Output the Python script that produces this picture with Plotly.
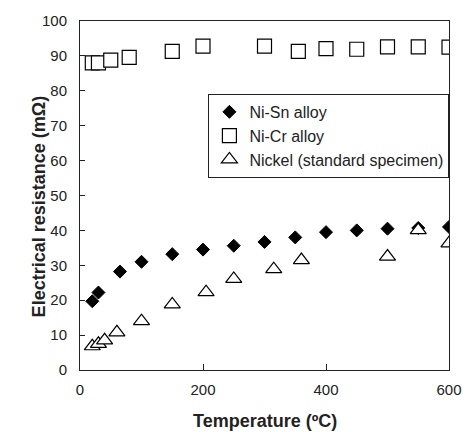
import plotly.graph_objects as go

# Data
nisn_temp = [20, 30, 65, 100, 150, 200, 250, 300, 350, 400, 450, 500, 550, 600]
nisn_res = [19.7, 22.2, 28.2, 31.0, 33.2, 34.5, 35.6, 36.7, 38.0, 39.5, 40.0, 40.5, 40.7, 41.0]

nicr_temp = [20, 30, 50, 80, 150, 200, 300, 355, 400, 450, 500, 550, 600]
nicr_res = [88.0, 88.0, 88.8, 89.6, 91.3, 92.8, 92.8, 91.3, 92.1, 91.9, 92.6, 92.6, 92.5]

ni_temp = [20, 30, 40, 60, 100, 150, 205, 250, 315, 360, 500, 550, 600]
ni_res = [6.8, 7.5, 8.5, 10.8, 14.0, 18.8, 22.3, 26.1, 28.9, 31.5, 32.5, 40.1, 36.3]

x_ticks = [0, 200, 400, 600]
y_ticks = [0, 10, 20, 30, 40, 50, 60, 70, 80, 90, 100]

FONT = "Liberation Sans, Arial, sans-serif"

fig = go.Figure()
fig.add_trace(go.Scatter(
    x=nisn_temp, y=nisn_res, mode="markers", name="Ni-Sn alloy",
    marker=dict(symbol="diamond", size=10, color="black", line=dict(color="black", width=1))))
fig.add_trace(go.Scatter(
    x=nicr_temp, y=nicr_res, mode="markers", name="Ni-Cr alloy",
    marker=dict(symbol="square", size=14, color="white", line=dict(color="black", width=1.2))))
fig.add_trace(go.Scatter(
    x=ni_temp, y=ni_res, mode="markers", name="Nickel (standard specimen)",
    marker=dict(symbol="triangle-up", size=14, color="white", line=dict(color="black", width=1.2))))

fig.update_layout(
    width=474, height=432,
    margin=dict(l=80, r=13, t=19, b=62),
    paper_bgcolor="white", plot_bgcolor="white",
    font=dict(family=FONT, color="#222", size=15),
    showlegend=True,
    legend=dict(
        x=0.348, y=0.791, xanchor="left", yanchor="top",
        bgcolor="white", bordercolor="#222", borderwidth=1,
        font=dict(family=FONT, size=16, color="#222"),
        itemwidth=30,
    ),
    xaxis=dict(
        range=[0, 600], tickvals=x_ticks, ticks="inside", ticklen=6, tickcolor="#222",
        showline=True, linecolor="#222", linewidth=1, mirror=True,
        showgrid=False, zeroline=False, ticklabelstandoff=6,
        tickfont=dict(size=15),
    ),
    yaxis=dict(
        range=[0, 100], tickvals=y_ticks, ticks="inside", ticklen=5, tickcolor="#222",
        showline=True, linecolor="#222", linewidth=1, mirror=True,
        showgrid=False, zeroline=False, ticklabelstandoff=9,
        tickfont=dict(size=15),
    ),
    annotations=[
        dict(text="<b>Temperature (ºC)</b>", xref="paper", yref="paper",
             x=0.5, y=-0.145, xanchor="center", yanchor="middle", showarrow=False,
             font=dict(family=FONT, size=18, color="#222")),
        dict(text="<b>Electrical resistance (mΩ)</b>", xref="paper", yref="paper",
             x=-0.11, y=0.47, xanchor="center", yanchor="middle", showarrow=False,
             textangle=-90, font=dict(family=FONT, size=18, color="#222")),
    ],
)

fig.write_html("out.html")
